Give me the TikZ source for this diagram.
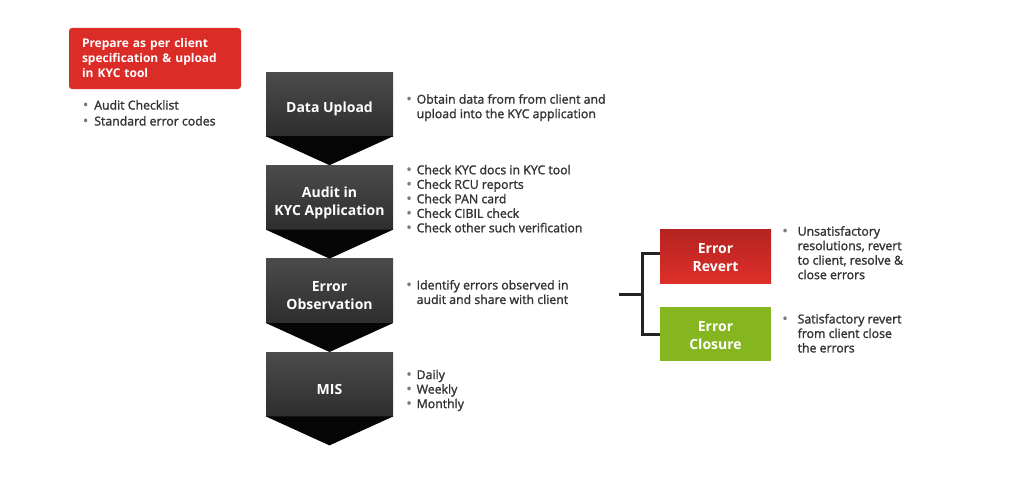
\documentclass[tikz,border=0pt]{standalone}
\usepackage{fontspec}
\setmainfont{Open Sans}
\newfontfamily\bodyfont[FakeBold=1.6]{Open Sans}
\usetikzlibrary{positioning}

\definecolor{stagetop}{HTML}{4B4B4B}
\definecolor{stagebot}{HTML}{2E2E2E}
\definecolor{chevron}{HTML}{050505}
\definecolor{prepred}{HTML}{DC2C27}
\definecolor{reverttop}{HTML}{B32320}
\definecolor{revertbot}{HTML}{DE2F2A}
\definecolor{closegreen}{HTML}{86B61F}
\definecolor{bodytext}{HTML}{333333}
\definecolor{dotgray}{HTML}{7A7A7A}
\definecolor{linedark}{HTML}{232323}

\newcommand{\dotitem}{{\color{dotgray}\fontsize{14}{14}\selectfont\textbullet}}

\begin{document}
\begin{tikzpicture}[x=1pt, y=-1pt,
        title/.style={text=white, align=center, inner sep=0pt, font=\fontsize{14}{18}\selectfont\bfseries},
        stage/.style={rectangle, top color=stagetop, bottom color=stagebot, minimum width=127pt, minimum height=64pt, inner sep=0pt, label={[title, yshift=-5pt]center:#1}},
        chev/.style={fill=chevron},
        prep/.style={rectangle, rounded corners=3pt, fill=prepred, text=white, text width=146pt, inner xsep=13pt, inner ysep=0pt, minimum height=61pt, align=left, font=\fontsize{12}{15}\selectfont\bfseries},
        outcome/.style={rectangle, minimum width=111pt, minimum height=54pt, inner sep=0pt, label={[title, yshift=-1.5pt]center:#1}},
        notes/.style={inner sep=0pt, text=bodytext, font=\bodyfont\fontsize{12.3}{14.5}\selectfont, anchor=west},
        bracket/.style={draw=linedark, line width=3pt}
    ]
        \useasboundingbox (0,0) rectangle (1024,487);

        % Preparation
        \node[prep] (prepare) at (155,58.5) {Prepare as per client\\specification \& upload\\in KYC tool};
        \node[notes, below right=9pt and 14pt of prepare.south west] (prepnotes) {\renewcommand{\arraystretch}{1.1}%
            \begin{tabular}{@{}l@{\hspace{6pt}}l@{}}
            \dotitem & Audit Checklist\\
            \dotitem & Standard error codes
            \end{tabular}};

        % Stages
        \node[stage={Data Upload}] (upload) at (329.5,104) {};
        \node[stage={Audit in\\KYC Application}, below=29pt of upload] (audit) {};
        \node[stage={Error\\Observation}, below=29pt of audit] (observe) {};
        \node[stage={MIS}, below=29pt of observe] (mis) {};

        % Chevrons
        \fill[chev] (upload.south west) -- (upload.south east) -- ([yshift=-29pt]upload.south) -- cycle;
        \fill[chev] (audit.south west) -- (audit.south east) -- ([yshift=-29pt]audit.south) -- cycle;
        \fill[chev] (observe.south west) -- (observe.south east) -- ([yshift=-29pt]observe.south) -- cycle;
        \fill[chev] (mis.south west) -- (mis.south east) -- ([yshift=-29pt]mis.south) -- cycle;

        % Stage notes
        \node[notes, right=13pt of upload, yshift=-4pt] (uploadnotes) {%
            \begin{tabular}{@{}l@{\hspace{5pt}}l@{}}
            \dotitem & Obtain data from from client and\\
                     & upload into the KYC application
            \end{tabular}};
        \node[notes, right=13pt of audit, yshift=-3pt] (auditnotes) {%
            \begin{tabular}{@{}l@{\hspace{5pt}}l@{}}
            \dotitem & Check KYC docs in KYC tool\\
            \dotitem & Check RCU reports\\
            \dotitem & Check PAN card\\
            \dotitem & Check CIBIL check\\
            \dotitem & Check other such verification
            \end{tabular}};
        \node[notes, right=13pt of observe, yshift=-3pt] (observenotes) {%
            \begin{tabular}{@{}l@{\hspace{5pt}}l@{}}
            \dotitem & Identify errors observed in\\
                     & audit and share with client
            \end{tabular}};
        \node[notes, right=13pt of mis, yshift=-6.5pt] (misnotes) {%
            \begin{tabular}{@{}l@{\hspace{5pt}}l@{}}
            \dotitem & Daily\\
            \dotitem & Weekly\\
            \dotitem & Monthly
            \end{tabular}};

        % Outcomes
        \node[outcome={Error\\Revert}, top color=reverttop, bottom color=revertbot] (revert) at (715.5,256) {};
        \node[outcome={Error\\Closure}, fill=closegreen] (closure) at (715.5,334) {};

        \node[notes, right=11pt of revert, yshift=1.5pt] (revertnotes) {%
            \begin{tabular}{@{}l@{\hspace{10pt}}l@{}}
            \dotitem & Unsatisfactory\\
                     & resolutions, revert\\
                     & to client, resolve \&\\
                     & close errors
            \end{tabular}};
        \node[notes, right=11pt of closure, yshift=-1pt] (closurenotes) {%
            \begin{tabular}{@{}l@{\hspace{10pt}}l@{}}
            \dotitem & Satisfactory revert\\
                     & from client close\\
                     & the errors
            \end{tabular}};

        % Bracket
        \coordinate (fork) at (619,294);
        \coordinate (spine) at (642,294);
        \draw[bracket] (fork) -- (spine);
        \draw[bracket] ([yshift=3pt]revert.west) -| (spine) |- (closure.west);
    \end{tikzpicture}
\end{document}
